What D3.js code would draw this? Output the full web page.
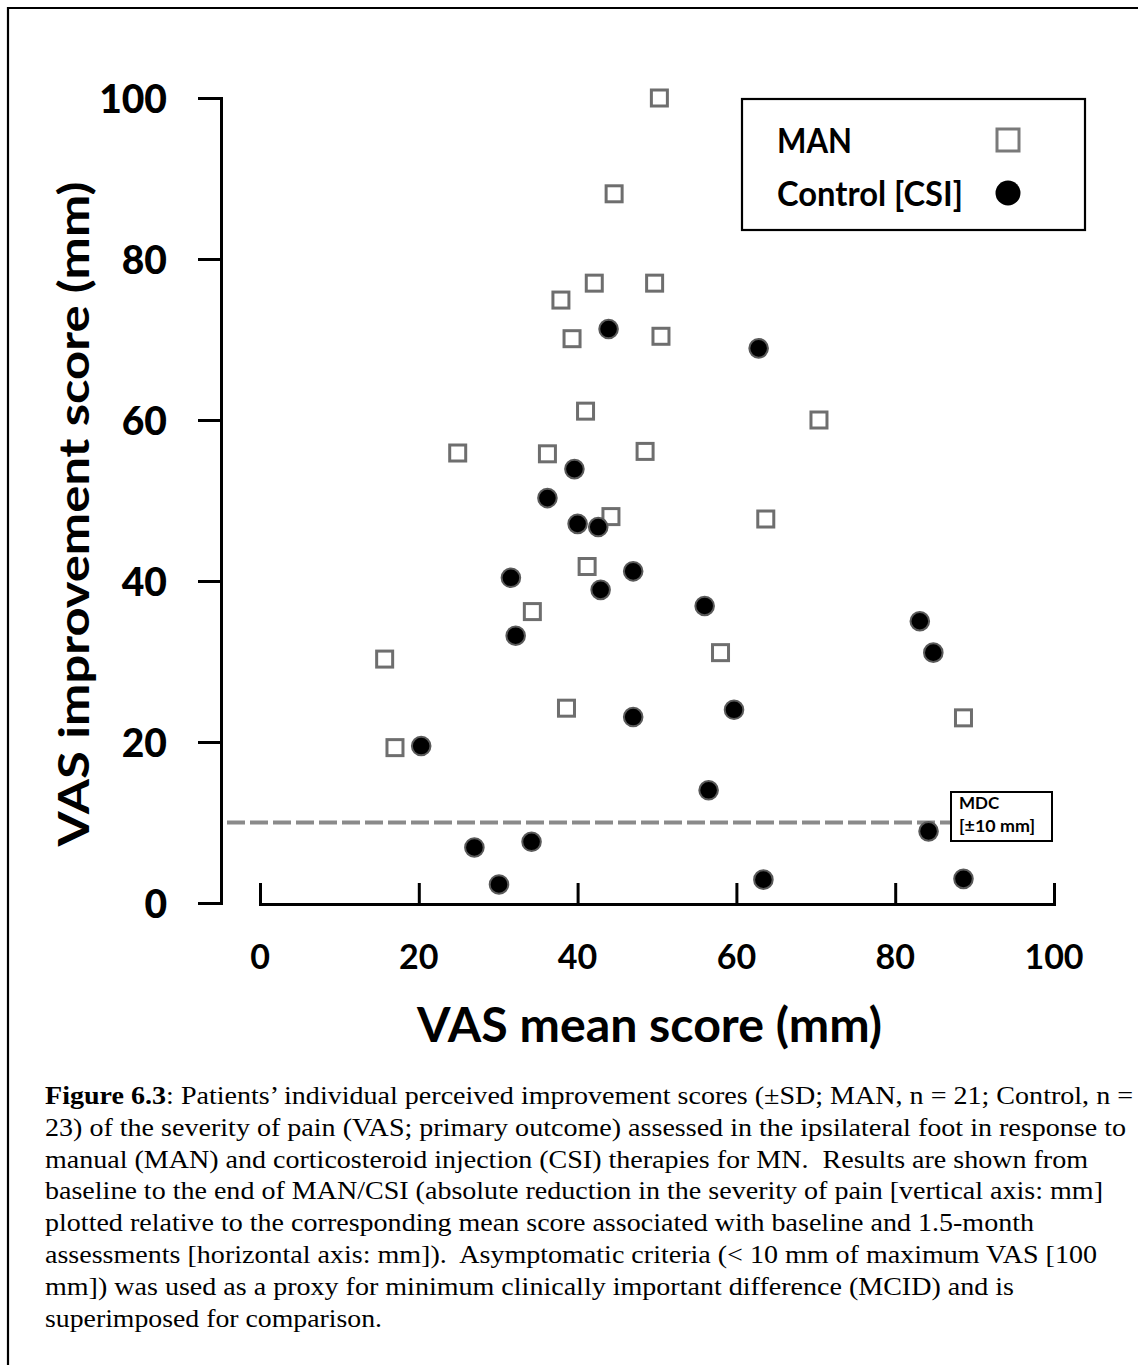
<!DOCTYPE html>
<html>
<head>
<meta charset="utf-8">
<script src="https://cdn.jsdelivr.net/npm/d3@7"></script>
<style>
  html, body { margin: 0; padding: 0; background: #fff; }
  svg { display: block; }
  .cap { white-space: pre; }
</style>
</head>
<body>
<script>
// Patients' VAS improvement vs. VAS mean score, MAN vs. Control [CSI]
const manX = [50.3, 44.6, 42.1, 49.7, 37.9, 39.3, 50.5, 41.0, 24.9, 36.2, 48.5,
              44.2, 41.2, 34.3, 15.7, 38.6, 17.0, 70.4, 63.7, 58.0, 88.6];
const manY = [100.0, 88.1, 77.0, 77.0, 74.9, 70.1, 70.4, 61.1, 55.9, 55.8, 56.1,
              48.0, 41.8, 36.2, 30.3, 24.2, 19.3, 60.0, 47.7, 31.1, 23.0];

const csiX = [43.9, 39.6, 36.2, 40.0, 42.6, 47.0, 31.6, 42.9, 32.2, 47.0, 20.3, 27.0,
              34.2, 30.1, 62.8, 56.0, 83.1, 84.8, 59.7, 56.5, 84.2, 63.4, 88.6];
const csiY = [71.3, 53.9, 50.3, 47.1, 46.7, 41.2, 40.4, 38.9, 33.2, 23.1, 19.5, 6.9,
              7.6, 2.3, 68.9, 36.9, 35.0, 31.1, 24.0, 14.0, 8.9, 2.9, 3.0];

const xTicks = [0, 20, 40, 60, 80, 100];
const yTicks = [0, 20, 40, 60, 80, 100];
const mdcValue = 10;

const seriesNames = ["MAN", "Control [CSI]"];
const xTitle = "VAS mean score (mm)";
const yTitle = "VAS improvement score (mm)";
const mdcLabel = ["MDC", "[±10 mm]"];

const captionLines = [
  ["Figure 6.3", ": Patients’ individual perceived improvement scores (±SD; MAN, n = 21; Control, n ="],
  ["", "23) of the severity of pain (VAS; primary outcome) assessed in the ipsilateral foot in response to"],
  ["", "manual (MAN) and corticosteroid injection (CSI) therapies for MN.  Results are shown from"],
  ["", "baseline to the end of MAN/CSI (absolute reduction in the severity of pain [vertical axis: mm]"],
  ["", "plotted relative to the corresponding mean score associated with baseline and 1.5-month"],
  ["", "assessments [horizontal axis: mm]).  Asymptomatic criteria (< 10 mm of maximum VAS [100"],
  ["", "mm]) was used as a proxy for minimum clinically important difference (MCID) and is"],
  ["", "superimposed for comparison."]
];
const captionWidths = [1088, 1081, 1043, 1058, 989, 1052, 969, 337];

const W = 1138, H = 1365;
const svg = d3.select("body").append("svg")
  .attr("width", W).attr("height", H)
  .attr("viewBox", `0 0 ${W} ${H}`);

svg.append("rect").attr("width", W).attr("height", H).attr("fill", "#fff");

// outer frame (top and left edges)
svg.append("path")
  .attr("d", `M8,${H} V8 H${W}`)
  .attr("fill", "none").attr("stroke", "#000").attr("stroke-width", 2.2);

const x = d3.scaleLinear().domain([0, 100]).range([260, 1054]);
const y = d3.scaleLinear().domain([0, 100]).range([903, 98]);
const yAxisX = 221;
const xAxisY = 904;

const boldFont = "Lato, 'Open Sans', sans-serif";

// y axis: bracket-shaped spine with left ticks
const gy = svg.append("g")
  .attr("transform", `translate(${yAxisX},0)`)
  .call(d3.axisLeft(y).tickValues(yTicks).tickSize(23).tickSizeOuter(23).tickPadding(31)
        .tickFormat(d3.format("d")));
gy.selectAll("path, line").attr("stroke", "#000").attr("stroke-width", 3);
gy.selectAll("text")
  .attr("font-family", boldFont).attr("font-weight", 900)
  .attr("font-size", 39).attr("fill", "#000").attr("dy", "0.36em");

// x axis: ticks pointing upward, labels below
const gx = svg.append("g")
  .attr("transform", `translate(0,${xAxisY})`)
  .call(d3.axisTop(x).tickValues(xTicks).tickSize(21).tickSizeOuter(21).tickFormat(""));
gx.selectAll("path, line").attr("stroke", "#000").attr("stroke-width", 3);

svg.append("g").selectAll("text").data(xTicks).join("text")
  .attr("x", d => x(d)).attr("y", 969)
  .attr("text-anchor", "middle")
  .attr("font-family", boldFont).attr("font-weight", 700)
  .attr("font-size", 34).attr("fill", "#000")
  .text(d => d);

// axis titles
svg.append("text")
  .attr("x", 417).attr("y", 1042)
  .attr("font-family", boldFont).attr("font-weight", 700)
  .attr("font-size", 47).attr("fill", "#000")
  .attr("textLength", 465).attr("lengthAdjust", "spacingAndGlyphs")
  .text(xTitle);

svg.append("text")
  .attr("transform", "translate(89,514) rotate(-90)")
  .attr("text-anchor", "middle")
  .attr("font-family", boldFont).attr("font-weight", 700)
  .attr("font-size", 42).attr("fill", "#000")
  .attr("textLength", 665).attr("lengthAdjust", "spacingAndGlyphs")
  .text(yTitle);

// MDC reference line
const mdcBox = { x: 951, y: 792, w: 101, h: 49 };
svg.append("line")
  .attr("x1", yAxisX + 6).attr("x2", mdcBox.x)
  .attr("y1", y(mdcValue)).attr("y2", y(mdcValue))
  .attr("stroke", "#8a8a8a").attr("stroke-width", 4)
  .attr("stroke-dasharray", "18,5");

// MAN: open squares
const sq = 16;
svg.append("g").selectAll("rect").data(d3.range(manX.length)).join("rect")
  .attr("x", i => x(manX[i]) - sq / 2)
  .attr("y", i => y(manY[i]) - sq / 2)
  .attr("width", sq).attr("height", sq)
  .attr("fill", "#fff").attr("stroke", "#6e6e6e").attr("stroke-width", 3);

// Control [CSI]: filled circles
svg.append("g").selectAll("circle").data(d3.range(csiX.length)).join("circle")
  .attr("cx", i => x(csiX[i]))
  .attr("cy", i => y(csiY[i]))
  .attr("r", 9.3)
  .attr("fill", "#000").attr("stroke", "#5a5a5a").attr("stroke-width", 2);

// MDC label box
svg.append("rect")
  .attr("x", mdcBox.x).attr("y", mdcBox.y)
  .attr("width", mdcBox.w).attr("height", mdcBox.h)
  .attr("fill", "#fff").attr("stroke", "#000").attr("stroke-width", 2);
svg.append("text")
  .attr("x", 959).attr("y", 809)
  .attr("font-family", boldFont).attr("font-weight", 700)
  .attr("font-size", 17).attr("fill", "#000")
  .text(mdcLabel[0]);
svg.append("text")
  .attr("x", 959).attr("y", 832)
  .attr("font-family", boldFont).attr("font-weight", 700)
  .attr("font-size", 17).attr("fill", "#000")
  .attr("textLength", 76).attr("lengthAdjust", "spacingAndGlyphs")
  .text(mdcLabel[1]);

// legend
const lg = svg.append("g");
lg.append("rect")
  .attr("x", 742).attr("y", 99).attr("width", 343).attr("height", 131)
  .attr("fill", "#fff").attr("stroke", "#000").attr("stroke-width", 2.2);
lg.append("text")
  .attr("x", 777).attr("y", 153)
  .attr("font-family", boldFont).attr("font-weight", 700)
  .attr("font-size", 35).attr("fill", "#000")
  .attr("textLength", 75).attr("lengthAdjust", "spacingAndGlyphs")
  .text(seriesNames[0]);
lg.append("text")
  .attr("x", 777).attr("y", 206)
  .attr("font-family", boldFont).attr("font-weight", 700)
  .attr("font-size", 35).attr("fill", "#000")
  .attr("textLength", 186).attr("lengthAdjust", "spacingAndGlyphs")
  .text(seriesNames[1]);
lg.append("rect")
  .attr("x", 1008 - 11).attr("y", 140 - 11).attr("width", 22).attr("height", 22)
  .attr("fill", "#fff").attr("stroke", "#7a7a7a").attr("stroke-width", 3);
lg.append("circle")
  .attr("cx", 1008).attr("cy", 193).attr("r", 12.5)
  .attr("fill", "#000");

// caption
const cap = svg.append("g");
captionLines.forEach((ln, i) => {
  const t = cap.append("text")
    .attr("class", "cap")
    .attr("x", 45).attr("y", 1104 + i * 31.8)
    .attr("font-family", "'Liberation Serif', 'Times New Roman', serif")
    .attr("font-size", 26).attr("fill", "#000")
    .attr("textLength", captionWidths[i]).attr("lengthAdjust", "spacingAndGlyphs");
  if (ln[0]) t.append("tspan").attr("font-weight", 700).text(ln[0]);
  t.append("tspan").text(ln[1]);
});
</script>
</body>
</html>
